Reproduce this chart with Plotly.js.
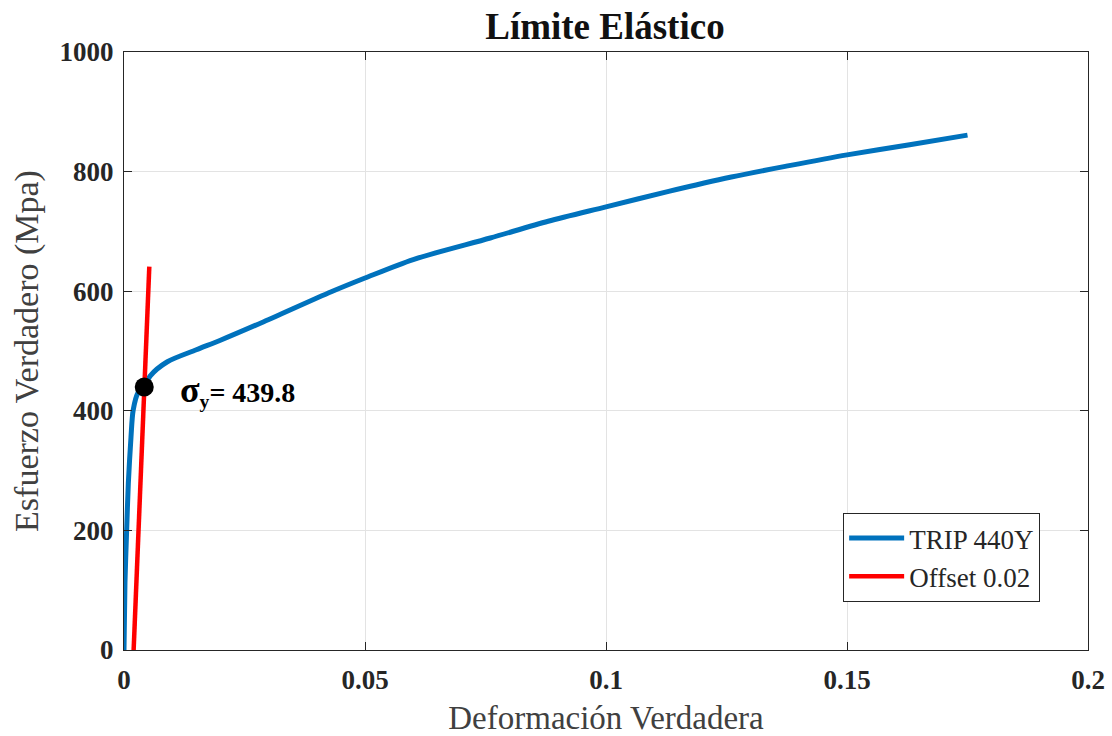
<!DOCTYPE html>
<html>
<head>
<meta charset="utf-8">
<script src="https://cdn.plot.ly/plotly-3.0.1.min.js"></script>
<style>html,body{margin:0;padding:0;background:#fff;}#chart{width:1112px;height:736px;}</style>
</head>
<body>
<div id="chart"></div>
<script>
// TRIP 440Y true stress-strain curve
const tripStrain = [0, 0.0002, 0.00055, 0.0009, 0.00145, 0.0019, 0.0029, 0.0042, 0.0054, 0.009, 0.015, 0.02, 0.029, 0.043, 0.05, 0.06, 0.076, 0.088, 0.1, 0.113, 0.126, 0.138, 0.15, 0.163, 0.175];
const tripStress = [0, 112, 200, 279, 356, 401, 430, 440, 458, 482, 502, 518, 549, 599, 622, 653, 689, 717, 741, 767, 791, 810, 828, 845, 861];
// Offset line
const offsetStrain = [0.002, 0.00525];
const offsetStress = [0, 641];
// Yield point
const yieldStrain = [0.0042];
const yieldStress = [439.8];
const xTickVals = [0, 0.05, 0.1, 0.15, 0.2];
const xTickText = ["0", "0.05", "0.1", "0.15", "0.2"];
const yTickVals = [0, 200, 400, 600, 800, 1000];
const yTickText = ["0", "200", "400", "600", "800", "1000"];

const serif = "Liberation Serif, Times New Roman, serif";

const traces = [
  {x: tripStrain, y: tripStress, type: "scatter", mode: "lines", name: "TRIP 440Y",
   line: {color: "#0072BD", width: 5, shape: "spline", smoothing: 0.8}},
  {x: offsetStrain, y: offsetStress, type: "scatter", mode: "lines", name: "Offset 0.02",
   line: {color: "#FF0000", width: 4.5}},
  {x: yieldStrain, y: yieldStress, type: "scatter", mode: "markers", showlegend: false,
   marker: {color: "#000000", size: 19}}
];

const layout = {
  width: 1112, height: 736,
  paper_bgcolor: "#ffffff", plot_bgcolor: "#ffffff",
  margin: {l: 124, r: 24, t: 52, b: 86},
  title: {text: "<b>Límite Elástico</b>", font: {family: serif, size: 37, color: "#111"}, x: 0.544, xanchor: "center", y: 0.965, yanchor: "middle"},
  showlegend: true,
  legend: {x: 0.746, y: 0.229, xanchor: "left", yanchor: "top", bordercolor: "#262626", borderwidth: 1,
           bgcolor: "#ffffff", font: {family: serif, size: 27, color: "#262626"}, tracegroupgap: 0, itemwidth: 55},
  xaxis: {range: [0, 0.2], tickvals: xTickVals, ticktext: xTickText,
          tickfont: {family: serif, size: 27, color: "#262626", weight: "bold"}, ticklabelstandoff: 6,
          title: {text: "Deformación Verdadera", font: {family: serif, size: 33, color: "#404040"}, standoff: 14},
          showgrid: true, gridcolor: "#e3e3e3", gridwidth: 1, zeroline: false,
          showline: true, linecolor: "#262626", linewidth: 1, mirror: "ticks",
          ticks: "inside", ticklen: 8, tickcolor: "#262626"},
  yaxis: {range: [0, 1000], tickvals: yTickVals, ticktext: yTickText,
          tickfont: {family: serif, size: 27, color: "#262626", weight: "bold"}, ticklabelstandoff: 4,
          title: {text: "Esfuerzo Verdadero (Mpa)", font: {family: serif, size: 34, color: "#404040"}, standoff: 10},
          showgrid: true, gridcolor: "#e3e3e3", gridwidth: 1, zeroline: false,
          showline: true, linecolor: "#262626", linewidth: 1, mirror: "ticks",
          ticks: "inside", ticklen: 8, tickcolor: "#262626"},
  annotations: [{
    x: yieldStrain[0], y: yieldStress[0], xref: "x", yref: "y",
    text: "<b><span style='font-size:36px'>σ</span><sub>y</sub>= " + yieldStress[0] + "</b>",
    showarrow: false, xanchor: "left", yanchor: "middle", xshift: 34, yshift: -4,
    font: {family: serif, size: 28, color: "#000"}
  }]
};

Plotly.newPlot("chart", traces, layout, {displayModeBar: false, staticPlot: true});
</script>
</body>
</html>
